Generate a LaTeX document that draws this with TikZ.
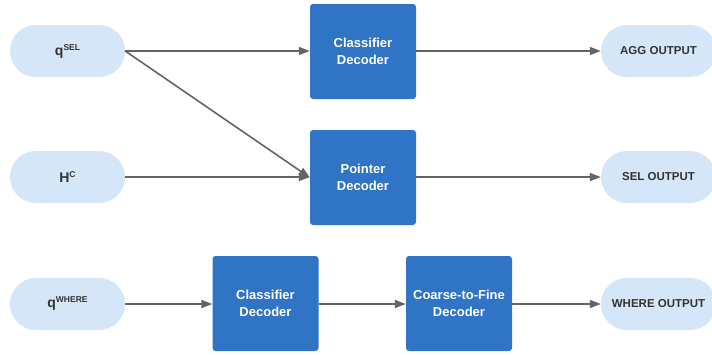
\documentclass[tikz,border=0pt]{standalone}
\usepackage{fontspec}
\setmainfont{Liberation Sans}
\usetikzlibrary{arrows.meta}
\definecolor{pillc}{HTML}{D5E6F8}
\definecolor{boxc}{HTML}{3074C6}
\definecolor{linec}{HTML}{646464}
\definecolor{txtc}{HTML}{333333}
\newcommand{\supx}[1]{\raisebox{5pt}{\fontsize{8.5}{9}\selectfont #1}}
\begin{document}
\begin{tikzpicture}[x=1pt,y=-1pt,
  pill/.style={fill=pillc, rounded corners=25.9pt, minimum width=115pt, minimum height=52pt, inner sep=0pt,
    font=\fontsize{11.5}{13}\selectfont\bfseries, text=txtc},
  inpill/.style={pill, font=\fontsize{14}{15}\selectfont\bfseries},
  dbox/.style={fill=boxc, rounded corners=3pt, minimum width=106pt, minimum height=95pt, inner sep=0pt,
    align=center, font=\fontsize{13}{17}\selectfont\bfseries, text=white},
  conn/.style={draw=linec, line width=1.6pt, -{Triangle[length=11pt,width=8pt]}}]
\useasboundingbox (0,0) rectangle (712,354);
\node[inpill] (qsel) at (67.5,51) {q\supx{SEL}};
\node[inpill] (hc) at (67.5,177) {H\supx{C}};
\node[inpill] (qwhere) at (67.5,304) {q\supx{WHERE}};
\node[dbox] (cls1) at (363,51.5) {Classifier\\Decoder};
\node[dbox] (ptr) at (363,177.5) {Pointer\\Decoder};
\node[dbox] (cls2) at (265.5,303.5) {Classifier\\Decoder};
\node[dbox] (ctf) at (459,303.5) {Coarse-to-Fine\\Decoder};
\node[pill] (agg) at (658.5,51) {AGG OUTPUT};
\node[pill] (sel) at (658.5,177) {SEL OUTPUT};
\node[pill] (where) at (658.5,304) {WHERE OUTPUT};
\draw[conn] (qsel.east) -- (qsel.east -| cls1.west);
\draw[conn] (qsel.east) -- (ptr.west);
\draw[conn] (hc.east) -- (hc.east -| ptr.west);
\draw[conn] (cls1.east |- agg.west) -- (agg.west);
\draw[conn] (ptr.east |- sel.west) -- (sel.west);
\draw[conn] (qwhere.east) -- (qwhere.east -| cls2.west);
\draw[conn] (cls2.east |- qwhere.east) -- (ctf.west |- qwhere.east);
\draw[conn] (ctf.east |- where.west) -- (where.west);
\end{tikzpicture}
\end{document}
